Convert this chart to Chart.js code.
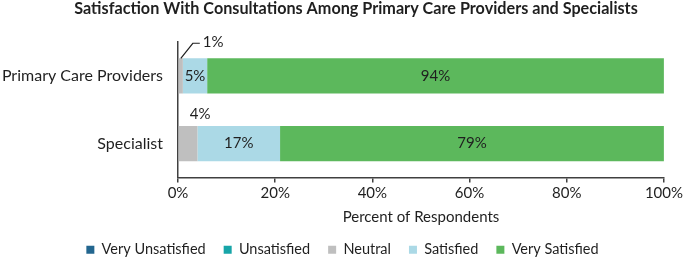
<!DOCTYPE html>
<html>
<head>
<meta charset="utf-8">
<script src="https://cdn.jsdelivr.net/npm/chart.js@4"></script>
<style>
  html, body { margin: 0; padding: 0; background: #fff; }
  #wrap { width: 685px; height: 260px; position: relative; }
</style>
</head>
<body>
<div id="wrap"><canvas id="chart"></canvas></div>
<script>
  // categories + series (percent of respondents)
  const categories = ["Primary Care Providers", "Specialist"];
  const seriesNames = ["Very Unsatisfied", "Unsatisfied", "Neutral", "Satisfied", "Very Satisfied"];
  const veryUnsatisfied = [0, 0];
  const unsatisfied = [0, 0];
  const neutral = [1, 4];
  const satisfied = [5, 17];
  const verySatisfied = [94, 79];
  const xTicks = [0, 20, 40, 60, 80, 100];

  const COLORS = ["#23668f", "#17a5a8", "#bfbfbf", "#abd9e6", "#5cb85c"];
  const FONT = "Lato, 'Open Sans', sans-serif";
  const TXT = "#1f1f1f";

  const seriesData = [veryUnsatisfied, unsatisfied, neutral, satisfied, verySatisfied];

  // title + value labels
  const labelPlugin = {
    id: "labels",
    afterDraw(chart) {
      const ctx = chart.ctx;
      ctx.save();
      ctx.fillStyle = TXT;
      ctx.font = "bold 16.2px " + FONT;
      ctx.textAlign = "center";
      ctx.textBaseline = "alphabetic";
      ctx.fillText("Satisfaction With Consultations Among Primary Care Providers and Specialists", 356, 14);

      ctx.font = "15px " + FONT;
      ctx.textBaseline = "middle";
      chart.data.datasets.forEach((ds, di) => {
        const meta = chart.getDatasetMeta(di);
        meta.data.forEach((bar, i) => {
          const v = ds.data[i];
          if (!v) return;
          const x1 = Math.min(bar.x, bar.base), x2 = Math.max(bar.x, bar.base);
          const top = bar.y - bar.height / 2;
          if (di === 2) {
            // neutral: label sits above the bar
            if (v < 2) {
              const sx = (x1 + x2) / 2;
              ctx.strokeStyle = TXT;
              ctx.lineWidth = 1.2;
              ctx.beginPath();
              ctx.moveTo(sx, top);
              ctx.lineTo(sx + 12, top - 15);
              ctx.lineTo(sx + 19, top - 15);
              ctx.stroke();
              ctx.textAlign = "left";
              ctx.fillText(v + "%", sx + 22, top - 16);
            } else {
              ctx.textAlign = "center";
              ctx.fillText(v + "%", (x1 + x2) / 2 + 12, top - 12);
            }
          } else {
            ctx.textAlign = "center";
            ctx.fillText(v + "%", (x1 + x2) / 2, bar.y);
          }
        });
      });
      ctx.restore();
    }
  };

  new Chart(document.getElementById("chart"), {
    type: "bar",
    data: {
      labels: categories,
      datasets: seriesNames.map((name, i) => ({
        label: name,
        data: seriesData[i],
        backgroundColor: COLORS[i],
        borderWidth: 0,
        barPercentage: 0.52,
        categoryPercentage: 1
      }))
    },
    plugins: [labelPlugin],
    options: {
      indexAxis: "y",
      responsive: true,
      maintainAspectRatio: false,
      animation: false,
      layout: { padding: { top: 42, right: 0, left: 0, bottom: -7 } },
      plugins: {
        title: { display: false },
        tooltip: { enabled: false },
        legend: {
          position: "bottom",
          labels: {
            font: { family: FONT, size: 14.5 },
            color: TXT,
            boxWidth: 8,
            boxHeight: 8,
            padding: 18
          }
        }
      },
      scales: {
        x: {
          stacked: true,
          min: 0,
          max: 100,
          afterBuildTicks(axis) { axis.ticks = xTicks.map(v => ({ value: v })); },
          grid: { display: true, drawOnChartArea: false, drawTicks: true, tickLength: 5, color: "#404040", lineWidth: 1.5 },
          border: { display: true, color: "#404040", width: 1.5 },
          ticks: {
            font: { family: FONT, size: 15 },
            color: TXT,
            padding: 2,
            callback: v => v + "%"
          },
          title: {
            display: true,
            text: "Percent of Respondents",
            font: { family: FONT, size: 15, lineHeight: 1 },
            color: TXT,
            padding: { top: 5, bottom: 0 }
          }
        },
        y: {
          stacked: true,
          afterFit(scale) { scale.width = 178; },
          grid: { display: false, drawTicks: false },
          border: { display: true, color: "#404040", width: 1.5 },
          ticks: {
            font: { family: FONT, size: 16 },
            color: TXT,
            padding: 15
          }
        }
      }
    }
  });
</script>
</body>
</html>
